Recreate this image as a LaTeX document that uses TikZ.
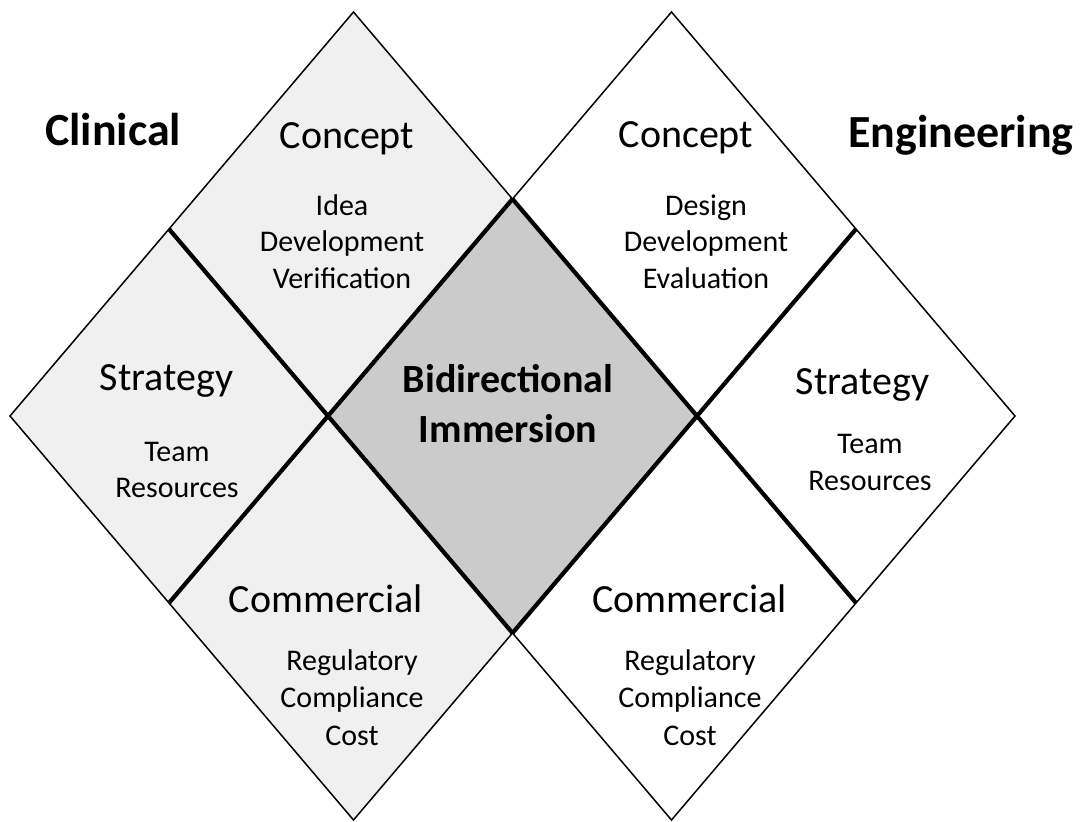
\documentclass[tikz,border=0pt]{standalone}
\usepackage{fontspec}
\setmainfont{Carlito}
\definecolor{clinicalfill}{HTML}{F0F0F0}
\definecolor{corefill}{HTML}{CBCBCB}
\begin{document}
\begin{tikzpicture}[x=1pt,y=-1pt,
  thinedge/.style={line width=1.5pt, line join=miter},
  thickedge/.style={line width=4.2pt, line cap=butt},
  heading/.style={font=\fontsize{40}{48}\selectfont, anchor=base, inner sep=0pt},
  items/.style={font=\fontsize{30}{36.5}\selectfont, align=center, anchor=base, inner sep=0pt},
  wideitems/.style={items, font=\fontsize{30}{37.5}\selectfont},
  side/.style={font=\bfseries\fontsize{46}{54}\selectfont, anchor=base, inner sep=0pt},
  core/.style={font=\bfseries\fontsize{40}{50}\selectfont, align=center, anchor=base, inner sep=0pt}]
\useasboundingbox (0,0) rectangle (1088,822);
\fill[white] (0,0) rectangle (1088,822);

% outer corners of the two large diamonds
\coordinate (L)  at (10,416);
\coordinate (LT) at (353.5,12);
\coordinate (LB) at (353.5,820);
\coordinate (RT) at (671.5,12);
\coordinate (R)  at (1015,416);
\coordinate (RB) at (671.5,820);
% inner crossing points and the central diamond
\coordinate (P)  at (328,416);
\coordinate (Q)  at (697,416);
\coordinate (ct) at (512.5,199);
\coordinate (cb) at (512.5,633);
% where the dividing lines meet the outer edges
\coordinate (ul) at (169,229);
\coordinate (ll) at (169,603);
\coordinate (ur) at (856,229);
\coordinate (lr) at (856,603);

% fills
\fill[clinicalfill] (L) -- (LT) -- (ct) -- (P) -- (cb) -- (LB) -- cycle;
\fill[corefill] (ct) -- (Q) -- (cb) -- (P) -- cycle;

% outer outline
\draw[thinedge] (L) -- (LT) -- (ct) -- (RT) -- (R) -- (RB) -- (cb) -- (LB) -- cycle;

% dividing lines, which also bound the central diamond
\draw[thickedge] (ul) -- (cb);
\draw[thickedge] (ll) -- (ct);
\draw[thickedge] (ur) -- (cb);
\draw[thickedge] (lr) -- (ct);

% side labels
\node[side] (clinical) at (113,145) {Clinical};
\node[side] (engineering) at (961,147) {Engineering};

% clinical side (multi-line nodes sit on the baseline of their last line)
\node[heading] (lconcept) at (347,148) {Concept};
\node[items] (lconceptitems) at (342,288) {Idea\\Development\\Verification};
\node[heading] (lstrategy) at (166.5,390) {Strategy};
\node[items] (lstrategyitems) at (177,497.5) {Team\\Resources};
\node[heading] (lcommercial) at (326,612) {Commercial};
\node[wideitems] (lcommercialitems) at (352,745) {Regulatory\\Compliance\\Cost};

% centre
\node[core] (immersion) at (508,442) {Bidirectional\\Immersion};

% engineering side
\node[heading] (rconcept) at (686,147) {Concept};
\node[items] (rconceptitems) at (706,288) {Design\\Development\\Evaluation};
\node[heading] (rstrategy) at (862.5,394) {Strategy};
\node[items] (rstrategyitems) at (870,490) {Team\\Resources};
\node[heading] (rcommercial) at (689.5,612) {Commercial};
\node[wideitems] (rcommercialitems) at (690,745) {Regulatory\\Compliance\\Cost};
\end{tikzpicture}
\end{document}
